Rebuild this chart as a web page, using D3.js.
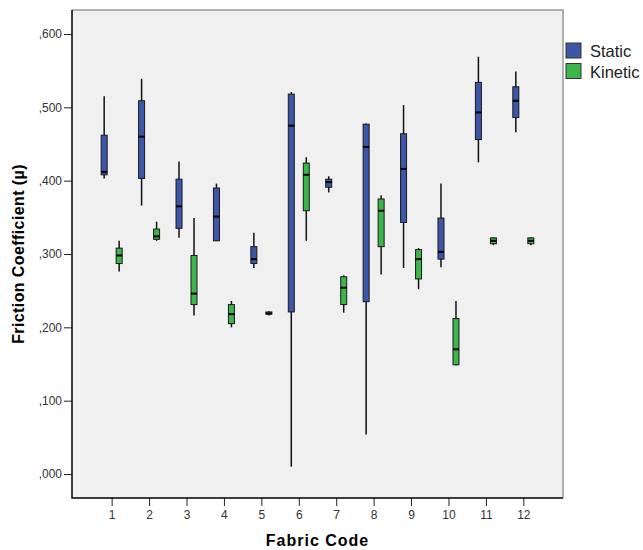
<!DOCTYPE html>
<html>
<head>
<meta charset="utf-8">
<script src="https://cdn.jsdelivr.net/npm/d3@7"></script>
<style>
	body { margin: 0; background: #fff; }
	text { font-family: "Liberation Sans", Arial, sans-serif; }
</style>
</head>
<body>
<svg id="chart"></svg>
<script>
const categories = ["1", "2", "3", "4", "5", "6", "7", "8", "9", "10", "11", "12"];
const seriesNames = ["Static", "Kinetic"];
const seriesColors = ["#3d56a8", "#3cb54a"];

// five-number summaries
const staticMin = [0.403, 0.366, 0.322, 0.318, 0.281, 0.010, 0.384, 0.054, 0.281, 0.282, 0.425, 0.466];
const staticQ1  = [0.408, 0.403, 0.335, 0.318, 0.287, 0.221, 0.391, 0.235, 0.343, 0.293, 0.456, 0.486];
const staticMed = [0.412, 0.460, 0.365, 0.351, 0.293, 0.475, 0.398, 0.446, 0.416, 0.303, 0.493, 0.509];
const staticQ3  = [0.462, 0.509, 0.402, 0.390, 0.310, 0.518, 0.402, 0.477, 0.464, 0.349, 0.534, 0.528];
const staticMax = [0.515, 0.539, 0.426, 0.396, 0.329, 0.521, 0.406, 0.478, 0.503, 0.396, 0.569, 0.549];

const kineticMin = [0.276, 0.318, 0.216, 0.200, 0.216, 0.318, 0.220, 0.272, 0.252, 0.148, 0.312, 0.312];
const kineticQ1  = [0.287, 0.320, 0.231, 0.205, 0.218, 0.359, 0.231, 0.310, 0.266, 0.149, 0.314, 0.314];
const kineticMed = [0.298, 0.324, 0.246, 0.218, 0.219, 0.408, 0.254, 0.359, 0.293, 0.170, 0.318, 0.318];
const kineticQ3  = [0.308, 0.334, 0.298, 0.231, 0.221, 0.424, 0.269, 0.375, 0.306, 0.212, 0.322, 0.322];
const kineticMax = [0.318, 0.344, 0.349, 0.236, 0.222, 0.432, 0.271, 0.380, 0.308, 0.236, 0.323, 0.323];

const yTicks = [0, 0.1, 0.2, 0.3, 0.4, 0.5, 0.6];

const WIDTH = 643;
const HEIGHT = 550;
const PLOT_LEFT = 72;
const PLOT_RIGHT = 563;
const PLOT_TOP = 10;
const PLOT_BOTTOM = 498;
const BOX_WIDTH = 6;

const svg = d3.select("#chart")
	.attr("width", WIDTH)
	.attr("height", HEIGHT);

const xScale = d3.scalePoint()
	.domain(categories)
	.range([PLOT_LEFT, PLOT_RIGHT])
	.padding(1.06);
const subScale = d3.scalePoint()
	.domain(seriesNames)
	.range([-7.5, 7.5]);
const yScale = d3.scaleLinear()
	.domain([-0.0327, 0.6327])
	.range([PLOT_BOTTOM, PLOT_TOP]);

// plot background and frame
svg.append("rect")
	.attr("x", PLOT_LEFT).attr("y", PLOT_TOP)
	.attr("width", PLOT_RIGHT - PLOT_LEFT).attr("height", PLOT_BOTTOM - PLOT_TOP)
	.attr("fill", "#f0f0f0");
svg.append("path")
	.attr("d", "M" + PLOT_LEFT + "," + PLOT_TOP + "H" + PLOT_RIGHT + "V" + PLOT_BOTTOM)
	.attr("fill", "none").attr("stroke", "#9a9a9a").attr("stroke-width", 1.5);

// build rows for the boxes
const rows = [];
categories.forEach(function(c, i) {
	rows.push({cat: c, series: "Static", color: seriesColors[0],
		min: staticMin[i], q1: staticQ1[i], med: staticMed[i], q3: staticQ3[i], max: staticMax[i]});
	rows.push({cat: c, series: "Kinetic", color: seriesColors[1],
		min: kineticMin[i], q1: kineticQ1[i], med: kineticMed[i], q3: kineticQ3[i], max: kineticMax[i]});
});

const boxes = svg.append("g").selectAll("g")
	.data(rows)
	.enter()
	.append("g")
	.attr("transform", function(d) { return "translate(" + (xScale(d.cat) + subScale(d.series)) + ",0)"; });

// whiskers
boxes.append("line")
	.attr("x1", 0).attr("x2", 0)
	.attr("y1", function(d) { return yScale(d.max); })
	.attr("y2", function(d) { return yScale(d.min); })
	.attr("stroke", "#111").attr("stroke-width", 1.5);

// boxes
boxes.append("rect")
	.attr("x", -BOX_WIDTH / 2)
	.attr("width", BOX_WIDTH)
	.attr("y", function(d) { return yScale(d.q3); })
	.attr("height", function(d) { return Math.max(1, yScale(d.q1) - yScale(d.q3)); })
	.attr("fill", function(d) { return d.color; })
	.attr("stroke", "#1a1a1a").attr("stroke-width", 1);

// medians
boxes.append("line")
	.attr("x1", -BOX_WIDTH / 2).attr("x2", BOX_WIDTH / 2)
	.attr("y1", function(d) { return yScale(d.med); })
	.attr("y2", function(d) { return yScale(d.med); })
	.attr("stroke", "#000").attr("stroke-width", 2);

// axes
const fmt = function(v) { return d3.format(".3f")(v).replace("0.", ","); };
const yAxis = d3.axisLeft(yScale).tickValues(yTicks).tickFormat(fmt).tickSize(8).tickPadding(2);
const xAxis = d3.axisBottom(xScale).tickSize(8).tickPadding(4);

const yAxisG = svg.append("g")
	.attr("transform", "translate(" + PLOT_LEFT + ",0)")
	.call(yAxis);
const xAxisG = svg.append("g")
	.attr("transform", "translate(0," + PLOT_BOTTOM + ")")
	.call(xAxis);

[yAxisG, xAxisG].forEach(function(g) {
	g.select(".domain").remove();
	g.selectAll(".tick line").attr("stroke", "#222").attr("stroke-width", 1);
	g.selectAll(".tick text")
		.attr("fill", "#333")
		.style("font-size", "12px")
		.style("font-family", "'Liberation Sans', Arial, sans-serif");
});

svg.append("path")
	.attr("d", "M" + PLOT_LEFT + "," + PLOT_TOP + "V" + PLOT_BOTTOM + "H" + PLOT_RIGHT)
	.attr("fill", "none").attr("stroke", "#000").attr("stroke-width", 1.5);

// axis titles
svg.append("text")
	.attr("x", (PLOT_LEFT + PLOT_RIGHT) / 2)
	.attr("y", 546)
	.attr("text-anchor", "middle")
	.style("font-size", "16px")
	.style("font-weight", "bold")
	.style("letter-spacing", "1px")
	.text("Fabric Code");
svg.append("text")
	.attr("transform", "translate(24," + ((PLOT_TOP + PLOT_BOTTOM) / 2) + ") rotate(-90)")
	.attr("text-anchor", "middle")
	.style("font-size", "16px")
	.style("font-weight", "bold")
	.style("letter-spacing", "0.4px")
	.text("Friction Coefficient (µ)");

// legend
const legend = svg.append("g")
	.selectAll("g")
	.data(seriesNames)
	.enter()
	.append("g")
	.attr("transform", function(d, i) { return "translate(566," + (43 + i * 20.5) + ")"; });
legend.append("rect")
	.attr("width", 15).attr("height", 15)
	.attr("fill", function(d, i) { return seriesColors[i]; })
	.attr("stroke", "#333").attr("stroke-width", 1);
legend.append("text")
	.attr("x", 24).attr("y", 14)
	.style("font-size", "16.5px")
	.attr("fill", "#222")
	.text(function(d) { return d; });
</script>
</body>
</html>
